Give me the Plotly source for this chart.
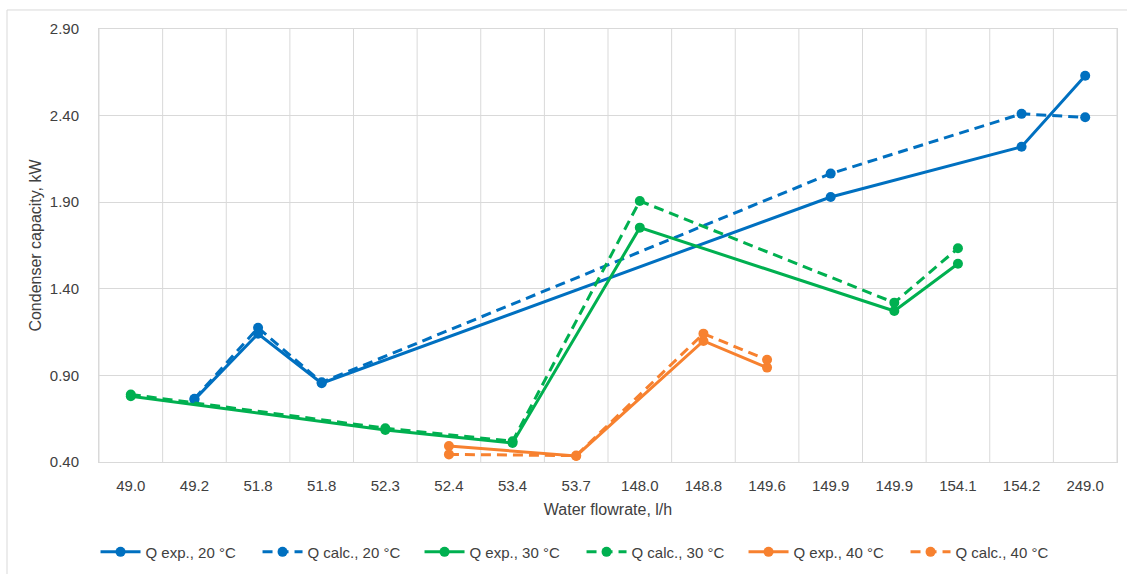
import plotly.graph_objects as go

categories = ["49.0", "49.2", "51.8", "51.8", "52.3", "52.4", "53.4", "53.7",
              "148.0", "148.8", "149.6", "149.9", "149.9", "154.1", "154.2", "249.0"]

# indices of categories where each temperature series has points
idx_20 = [1, 2, 3, 11, 14, 15]
q_exp_20 = [0.76, 1.14, 0.855, 1.93, 2.22, 2.63]
q_calc_20 = [0.765, 1.175, 0.86, 2.065, 2.41, 2.39]

idx_30 = [0, 4, 6, 8, 12, 13]
q_exp_30 = [0.78, 0.585, 0.51, 1.753, 1.272, 1.545]
q_calc_30 = [0.79, 0.595, 0.52, 1.907, 1.32, 1.634]

idx_40 = [5, 7, 9, 10]
q_exp_40 = [0.492, 0.435, 1.099, 0.945]
q_calc_40 = [0.444, 0.437, 1.141, 0.99]

BLUE = "#0070C0"
GREEN = "#00B050"
ORANGE = "#F7812F"
FONT = "Liberation Sans, Arial, sans-serif"
TXT = "#404040"

fig = go.Figure()

def add(idx, vals, color, dashed, name):
    fig.add_trace(go.Scatter(
        x=idx, y=vals, mode="lines+markers", name=name,
        line=dict(color=color, width=3, dash="10px,6px" if dashed else "solid"),
        marker=dict(color=color, size=10, symbol="circle"),
    ))

add(idx_20, q_exp_20, BLUE, False, "Q exp., 20 °C")
add(idx_20, q_calc_20, BLUE, True, "Q calc., 20 °C")
add(idx_30, q_exp_30, GREEN, False, "Q exp., 30 °C")
add(idx_30, q_calc_30, GREEN, True, "Q calc., 30 °C")
add(idx_40, q_exp_40, ORANGE, False, "Q exp., 40 °C")
add(idx_40, q_calc_40, ORANGE, True, "Q calc., 40 °C")

n = len(categories)
fig.update_layout(
    width=1127, height=574,
    margin=dict(l=99, r=10, t=29, b=112, autoexpand=False),
    paper_bgcolor="white", plot_bgcolor="white",
    font=dict(family=FONT, size=15, color=TXT),
    showlegend=True,
    legend=dict(orientation="h", x=0.474, xanchor="center", y=-0.17, yanchor="top",
                font=dict(size=15, color=TXT), itemwidth=40,
                entrywidth=107, entrywidthmode="pixels",
                traceorder="normal"),
    xaxis=dict(
        range=[-0.5, n - 0.5], automargin=False,
        tickmode="array", tickvals=list(range(n)), ticktext=categories,
        showgrid=False, zeroline=False,
        showline=True, linecolor="#d9d9d9", linewidth=1, mirror=True,
        ticks="outside", ticklen=10, tickcolor="rgba(0,0,0,0)",
        tickfont=dict(size=15, color=TXT),
        title=dict(text="Water flowrate, l/h", font=dict(size=16, color=TXT), standoff=10),
    ),
    yaxis=dict(
        range=[0.40, 2.90], tickmode="array", automargin=False,
        tickvals=[0.40, 0.90, 1.40, 1.90, 2.40, 2.90],
        tickformat=".2f",
        showgrid=True, gridcolor="#d9d9d9", gridwidth=1, zeroline=False,
        showline=True, linecolor="#d9d9d9", linewidth=1, mirror=True,
        ticks="outside", ticklen=16, tickcolor="rgba(0,0,0,0)",
        tickfont=dict(size=15, color=TXT),
        title=dict(text="Condenser capacity, kW", font=dict(size=16, color=TXT), standoff=4),
    ),
)

# vertical category boundary gridlines
for i in range(n + 1):
    fig.add_shape(type="line", xref="x", yref="paper", x0=i - 0.5, x1=i - 0.5, y0=0, y1=1,
                  line=dict(color="#d9d9d9", width=1), layer="below")

# outer chart border
fig.add_shape(type="rect", xref="paper", yref="paper",
              x0=(7 - 99) / 1018, x1=(1140 - 99) / 1018,
              y0=(461.5 - 590) / 432.5, y1=(461.5 - 10) / 432.5,
              line=dict(color="#d9d9d9", width=1), fillcolor="rgba(0,0,0,0)", layer="below")

fig.write_html("out.html", config={"displayModeBar": False})

# remove the browser's default page margin so the figure sits at the window origin
with open("out.html", "r", encoding="utf-8") as f:
    html = f.read()
html = html.replace("<body>", '<body style="margin:0;padding:0;overflow:hidden">', 1)
with open("out.html", "w", encoding="utf-8") as f:
    f.write(html)
